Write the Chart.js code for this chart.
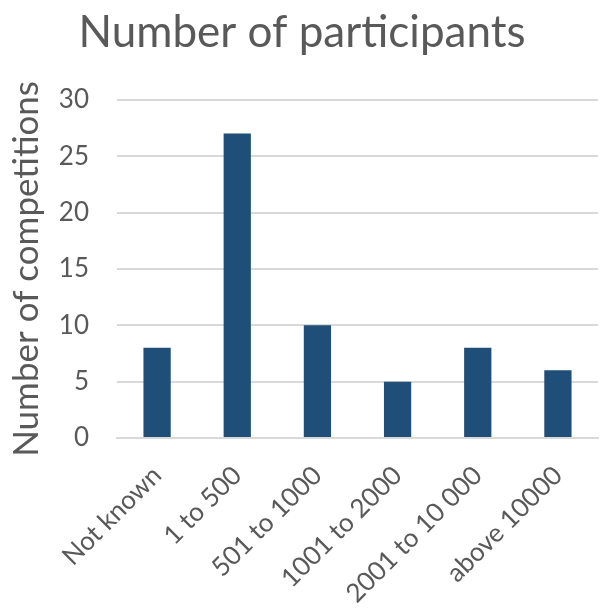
<!DOCTYPE html>
<html>
<head>
<meta charset="utf-8">
<script src="https://cdn.jsdelivr.net/npm/chart.js@4.4.0/dist/chart.umd.min.js"></script>
<style>
  html, body { margin: 0; padding: 0; background: #fff; }
  #wrap { width: 616px; height: 610px; position: relative; }
</style>
</head>
<body>
<div id="wrap"><canvas id="chart"></canvas></div>
<script>
// data
const categorias = ['Not known', '1 to 500', '501 to 1000', '1001 to 2000', '2001 to 10 000', 'above 10000'];
const competicoes = [8, 27, 10, 5, 8, 6];
const yMax = 30;
const yStep = 5;

const FONTE = "Lato, 'Open Sans', sans-serif";
const CINZA = '#595959';

new Chart(document.getElementById('chart'), {
    type: 'bar',
    data: {
        labels: categorias,
        datasets: [{
            label: 'Number of competitions',
            data: competicoes,
            backgroundColor: '#1f4e79',
            borderWidth: 0,
            categoryPercentage: 1,
            barPercentage: 0.34,
        }]
    },
    options: {
        responsive: true,
        maintainAspectRatio: false,
        animation: false,
        layout: { padding: { left: 6, right: 18, top: 6, bottom: 0 } },
        plugins: {
            legend: { display: false },
            tooltip: { enabled: false },
            title: {
                display: true,
                text: 'Number of participants',
                color: CINZA,
                font: { family: FONTE, size: 44, weight: 'normal' },
                padding: { top: 0, bottom: 41 }
            }
        },
        scales: {
            x: {
                grid: { display: false, drawTicks: false },
                border: { display: true, color: '#d9d9d9', width: 2 },
                ticks: {
                    color: CINZA,
                    font: { family: FONTE, size: 26 },
                    maxRotation: 45,
                    minRotation: 45,
                    padding: 22,
                    autoSkip: false
                },
                afterFit: s => { s.height = 172; }
            },
            y: {
                min: 0,
                max: yMax,
                grid: { color: '#d9d9d9', lineWidth: 2, drawTicks: false },
                border: { display: false },
                ticks: {
                    stepSize: yStep,
                    color: CINZA,
                    font: { family: FONTE, size: 26 },
                    padding: 28
                },
                title: {
                    display: true,
                    text: 'Number of competitions',
                    color: CINZA,
                    font: { family: FONTE, size: 35 },
                    padding: 0
                },
                afterFit: s => { s.width = 111; }
            }
        }
    }
});
</script>
</body>
</html>
